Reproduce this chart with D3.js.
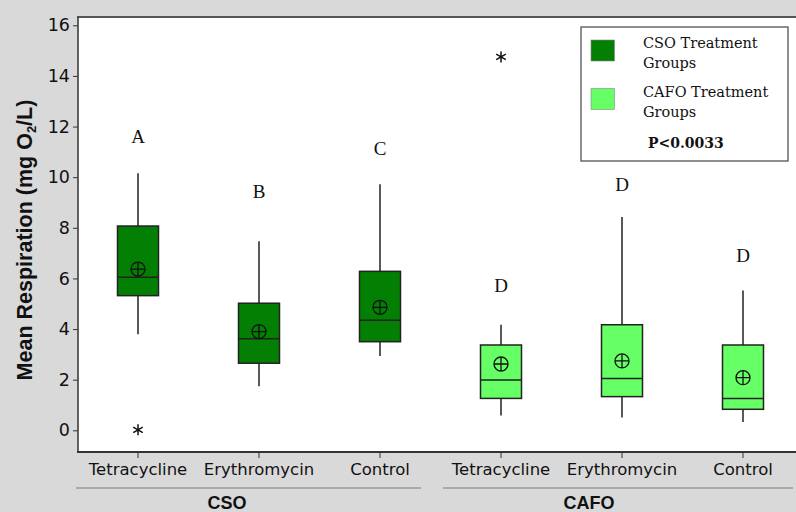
<!DOCTYPE html>
<html>
<head>
<meta charset="utf-8">
<script src="https://cdn.jsdelivr.net/npm/d3@7"></script>
<style>
  body { margin: 0; background: #d9d9d9; }
  svg { display: block; }
</style>
</head>
<body>
<svg id="mainsvg" width="796" height="512"></svg>
<script>
// data
const groups = ['CSO', 'CAFO'];
const treatments = ['Tetracycline', 'Erythromycin', 'Control'];
const boxGroup = ['CSO', 'CSO', 'CSO', 'CAFO', 'CAFO', 'CAFO'];
const boxTreat = ['Tetracycline', 'Erythromycin', 'Control', 'Tetracycline', 'Erythromycin', 'Control'];
const whiskerLow = [3.79, 1.74, 2.94, 0.58, 0.51, 0.33];
const q1 = [5.32, 2.65, 3.50, 1.26, 1.33, 0.83];
const median = [6.05, 3.62, 4.35, 1.99, 2.05, 1.26];
const q3 = [8.07, 5.02, 6.28, 3.37, 4.17, 3.37];
const whiskerHigh = [10.16, 7.47, 9.72, 4.17, 8.43, 5.52];
const means = [6.37, 3.90, 4.86, 2.62, 2.74, 2.08];
const outliers = [{box: 0, value: 0.02}, {box: 3, value: 14.75}];
const letters = ['A', 'B', 'C', 'D', 'D', 'D'];
const letterY = [11.6, 9.43, 11.14, 5.74, 9.7, 6.9];
const yTicks = [0, 2, 4, 6, 8, 10, 12, 14, 16];
const legendLabels = [['CSO Treatment', 'Groups'], ['CAFO Treatment', 'Groups']];
const pValue = 'P<0.0033';

const colors = {CSO: '#037f03', CAFO: '#66ff66'};

const svg = d3.select('#mainsvg');
const width = +svg.attr('width');
const height = +svg.attr('height');
const margin = {top: 17, left: 78, bottom: 60};

const keys = boxGroup.map((g, i) => g + '-' + boxTreat[i]);
const xScale = d3.scaleBand()
  .domain(keys)
  .range([77.5, 803.5]);
const yScale = d3.scaleLinear()
  .domain([0, 16])
  .range([430.3, 25.3]);

// plot area
svg.append('rect')
  .attr('x', margin.left).attr('y', margin.top)
  .attr('width', width + 20 - margin.left)
  .attr('height', 452 - margin.top)
  .attr('fill', 'white');
svg.append('line')
  .attr('x1', margin.left - 1).attr('x2', width)
  .attr('y1', margin.top).attr('y2', margin.top)
  .attr('stroke', '#555').attr('stroke-width', 2);

// y axis
const yAxis = d3.axisLeft(yScale).tickValues(yTicks).tickSize(5).tickPadding(3);
const yg = svg.append('g').attr('transform', `translate(${margin.left}, 0)`).call(yAxis);
yg.select('.domain').remove();
yg.append('line').attr('x1', 0).attr('x2', 0)
  .attr('y1', margin.top).attr('y2', 452)
  .attr('stroke', '#333').attr('stroke-width', 1.5);
yg.selectAll('.tick line').attr('stroke', '#333');
yg.selectAll('.tick text')
  .attr('font-family', 'DejaVu Sans').attr('font-size', '17.5px').attr('fill', '#111');

// x axis
const xAxis = d3.axisBottom(xScale).tickSize(6).tickPadding(5)
  .tickFormat((d, i) => boxTreat[i]);
const xg = svg.append('g').attr('transform', 'translate(0, 452)').call(xAxis);
xg.select('.domain').remove();
xg.append('line').attr('x1', margin.left - 1).attr('x2', width)
  .attr('y1', 0).attr('y2', 0)
  .attr('stroke', '#333').attr('stroke-width', 2);
xg.selectAll('.tick line').attr('stroke', '#333');
xg.selectAll('.tick text')
  .attr('font-family', 'DejaVu Sans').attr('font-size', '16.5px').attr('fill', '#111');

// group brackets under the axis
const groupSpan = [[76, 421, 227], [443, 793, 589]];
groups.forEach((g, i) => {
  svg.append('line')
    .attr('x1', groupSpan[i][0]).attr('x2', groupSpan[i][1])
    .attr('y1', 488).attr('y2', 488)
    .attr('stroke', '#aaa').attr('stroke-width', 2);
  svg.append('text')
    .text(g)
    .attr('x', groupSpan[i][2]).attr('y', 509)
    .attr('text-anchor', 'middle')
    .attr('font-family', 'Liberation Sans').attr('font-weight', 'bold')
    .attr('font-size', '18px').attr('fill', '#111');
});

// y title
svg.append('text')
  .attr('transform', 'translate(32, 240) rotate(-90)')
  .attr('text-anchor', 'middle')
  .attr('font-family', 'Liberation Sans').attr('font-weight', 'bold')
  .attr('font-size', '21.5px').attr('fill', '#111')
  .call(t => {
    t.append('tspan').text('Mean Respiration (mg O');
    t.append('tspan').text('2').attr('font-size', '13px').attr('dy', 4);
    t.append('tspan').text('/L)').attr('dy', -4);
  });

// boxes
const boxW = 41;
keys.forEach((k, i) => {
  const cx = xScale(k) + xScale.bandwidth() / 2;
  const g = svg.append('g');
  g.append('line')
    .attr('x1', cx).attr('x2', cx)
    .attr('y1', yScale(whiskerHigh[i])).attr('y2', yScale(q3[i]))
    .attr('stroke', '#222').attr('stroke-width', 1.5);
  g.append('line')
    .attr('x1', cx).attr('x2', cx)
    .attr('y1', yScale(q1[i])).attr('y2', yScale(whiskerLow[i]))
    .attr('stroke', '#222').attr('stroke-width', 1.5);
  g.append('rect')
    .attr('x', cx - boxW / 2).attr('width', boxW)
    .attr('y', yScale(q3[i]))
    .attr('height', yScale(q1[i]) - yScale(q3[i]))
    .attr('fill', colors[boxGroup[i]])
    .attr('stroke', '#222').attr('stroke-width', 1.5);
  g.append('line')
    .attr('x1', cx - boxW / 2).attr('x2', cx + boxW / 2)
    .attr('y1', yScale(median[i])).attr('y2', yScale(median[i]))
    .attr('stroke', '#222').attr('stroke-width', 1.5);
  // mean: circle with cross
  const my = yScale(means[i]);
  g.append('circle').attr('cx', cx).attr('cy', my).attr('r', 7)
    .attr('fill', 'none').attr('stroke', '#111').attr('stroke-width', 1.3);
  g.append('path')
    .attr('d', `M${cx - 7},${my}H${cx + 7}M${cx},${my - 7}V${my + 7}`)
    .attr('stroke', '#111').attr('stroke-width', 1.3);
  // letters
  svg.append('text')
    .text(letters[i])
    .attr('x', cx).attr('y', yScale(letterY[i]))
    .attr('dy', '0.35em')
    .attr('text-anchor', 'middle')
    .attr('font-family', 'Liberation Serif').attr('font-size', '19px')
    .attr('fill', '#111');
});

// outliers as asterisks
outliers.forEach(o => {
  const cx = xScale(keys[o.box]) + xScale.bandwidth() / 2;
  const cy = yScale(o.value);
  const r = 5.5;
  let d = '';
  [90, 30, 150].forEach(a => {
    const dx = r * Math.cos(a * Math.PI / 180), dy = r * Math.sin(a * Math.PI / 180);
    d += `M${cx - dx},${cy - dy}L${cx + dx},${cy + dy}`;
  });
  svg.append('path').attr('d', d).attr('stroke', '#111').attr('stroke-width', 1.5);
});

// legend
const lg = svg.append('g').attr('transform', 'translate(581, 27)');
lg.append('rect').attr('width', 207).attr('height', 134)
  .attr('fill', 'white').attr('stroke', '#444').attr('stroke-width', 1.2);
groups.forEach((g, i) => {
  lg.append('rect')
    .attr('x', 10).attr('y', 13 + i * 48.5)
    .attr('width', 23.5).attr('height', 21)
    .attr('fill', colors[g]).attr('stroke', '#888').attr('stroke-width', 0.6);
  legendLabels[i].forEach((line, j) => {
    lg.append('text')
      .text(line)
      .attr('x', 62).attr('y', 21 + i * 49 + j * 19.5)
      .attr('font-family', 'DejaVu Serif').attr('font-size', '14.5px')
      .attr('fill', '#111');
  });
});
lg.append('text')
  .text(pValue)
  .attr('x', 67).attr('y', 121)
  .attr('font-family', 'DejaVu Serif').attr('font-weight', 'bold')
  .attr('font-size', '14px').attr('fill', '#111');
</script>
</body>
</html>
